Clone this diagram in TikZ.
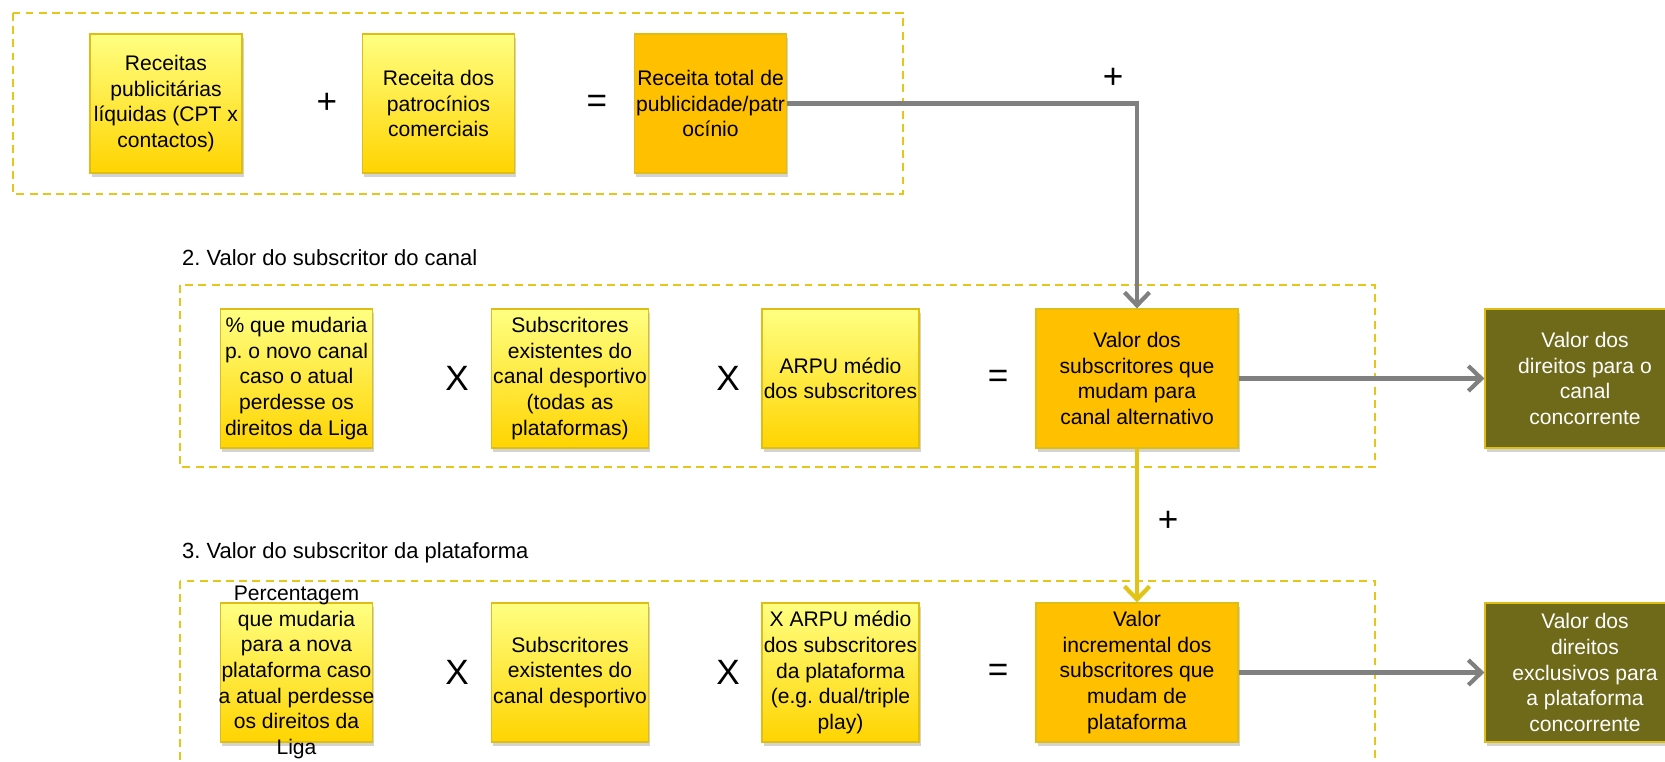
\documentclass[tikz,border=0pt]{standalone}
\usepackage{fontspec}
\setmainfont{Liberation Sans}
\usetikzlibrary{arrows.meta,shadows}
\frenchspacing

\definecolor{ylight}{RGB}{255,255,130}
\definecolor{ydark}{RGB}{255,212,0}
\definecolor{orangebox}{RGB}{255,192,0}
\definecolor{olivebox}{RGB}{111,106,26}
\definecolor{boxline}{RGB}{222,190,20}
\definecolor{dashgold}{RGB}{230,198,25}
\definecolor{arrowgrey}{RGB}{128,128,128}
\definecolor{arrowgold}{RGB}{226,196,23}

\begin{document}
\begin{tikzpicture}[x=0.02cm,y=-0.02cm]
  \tikzstyle{every node}=[font=\fontsize{12}{14.6}\selectfont]
  \tikzstyle{basebox}=[draw=boxline,line width=0.7pt,minimum height=2.78cm,
    inner sep=1pt,align=center,
    drop shadow={opacity=0.35,shadow xshift=1pt,shadow yshift=-2.5pt}]
  \tikzstyle{inbox}=[basebox,minimum width=3.04cm,top color=ylight,bottom color=ydark]
  \tikzstyle{sumbox}=[basebox,fill=orangebox]
  \tikzstyle{outbox}=[basebox,fill=olivebox,text=white,minimum width=4cm]
  \tikzstyle{op}=[font=\fontsize{20}{20}\selectfont]
  \tikzstyle{dashbox}=[draw=dashgold,line width=1.1pt,dash pattern=on 4.5pt off 3pt]
  \tikzstyle{greyarrow}=[draw=arrowgrey,line width=2.4pt,
    -{Straight Barb[length=2.6mm,width=5mm]}]
  \tikzstyle{goldarrow}=[greyarrow,draw=arrowgold]
  \useasboundingbox (0,0) rectangle (1665,761);

  % frames
  \draw[dashbox] (13,13) rectangle (903,194);
  \draw[dashbox] (180,285) rectangle (1375,467);
  \draw[dashbox] (180,581) rectangle (1375,790);
  \node[anchor=west,font=\fontsize{12.5}{15}\selectfont] (lblcanal) at (176,258)
    {2. Valor do subscritor do canal};
  \node[anchor=west,font=\fontsize{12.5}{15}\selectfont] (lblplat) at (176,553)
    {3. Valor do subscritor da plataforma};

  % 1. publicidade
  \node[inbox] (a1) at (166,103.5) {Receitas\\publicitárias\\líquidas (CPT x\\contactos)};
  \node[op] (opa1) at (327,103.5) {+};
  \node[inbox] (a2) at (438.5,103.5) {Receita dos\\patrocínios\\comerciais};
  \node[op] (opa2) at (597,103.5) {=};
  \node[sumbox,minimum width=3.04cm] (a3) at (710.5,103.5)
    {Receita total de\\publicidade/patr\\ocínio};

  % 2. canal
  \node[inbox] (b1) at (296.5,378.5) {\% que mudaria\\p. o novo canal\\caso o atual\\perdesse os\\direitos da Liga};
  \node[op] (opb1) at (457,378.5) {X};
  \node[inbox] (b2) at (570,378.5) {Subscritores\\existentes do\\canal desportivo\\(todas as\\plataformas)};
  \node[op] (opb2) at (728,378.5) {X};
  \node[inbox] (b3) at (840.5,378.5) {ARPU médio\\dos subscritores};
  \node[op] (opb3) at (998,378.5) {=};
  \node[sumbox,minimum width=4.04cm] (b4) at (1137,378.5)
    {Valor dos\\subscritores que\\mudam para\\canal alternativo};
  \node[outbox] (b5) at (1585,378.5) {Valor dos\\direitos para o\\canal\\concorrente};

  % 3. plataforma
  \node[inbox] (c1) at (296.5,672.5) {};
  \node (c1txt) at (c1) [align=center]
    {Percentagem\\que mudaria\\para a nova\\plataforma caso\\a atual perdesse\\os direitos da\\Liga};
  \node[op] (opc1) at (457,672.5) {X};
  \node[inbox] (c2) at (570,672.5) {Subscritores\\existentes do\\canal desportivo};
  \node[op] (opc2) at (728,672.5) {X};
  \node[inbox] (c3) at (840.5,672.5) {X ARPU médio\\dos subscritores\\da plataforma\\(e.g. dual/triple\\play)};
  \node[op] (opc3) at (998,672.5) {=};
  \node[sumbox,minimum width=4.04cm] (c4) at (1137,672.5)
    {Valor\\incremental dos\\subscritores que\\mudam de\\plataforma};
  \node[outbox] (c5) at (1585,672.5) {Valor dos\\direitos\\exclusivos para\\a plataforma\\concorrente};

  % connectors
  \draw[greyarrow] (a3.east) -| (b4.north);
  \node[op] (plus1) at (1113,78) {+};
  \draw[goldarrow] (b4.south) -- (c4.north);
  \node[op] (plus2) at (1168,521) {+};
  \draw[greyarrow] (b4) -- (b5);
  \draw[greyarrow] (c4) -- (c5);
\end{tikzpicture}
\end{document}
